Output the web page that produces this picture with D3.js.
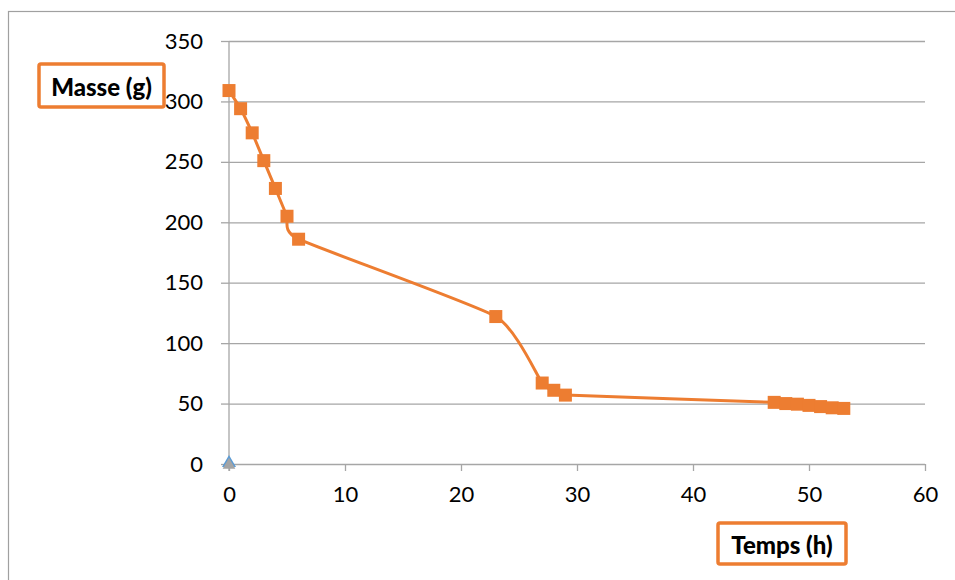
<!DOCTYPE html>
<html>
<head>
<meta charset="utf-8">
<script src="https://cdn.jsdelivr.net/npm/d3@7"></script>
<style>
  body { margin: 0; background: #fff; }
  svg { display: block; font-family: Lato, "Open Sans", sans-serif; }
</style>
</head>
<body>
<svg width="955" height="580"></svg>
<script>
// values
const hours = [0, 1, 2, 3, 4, 5, 6, 23, 27, 28, 29, 47, 48, 49, 50, 51, 52, 53];
const masses = [309, 294, 274, 251, 228, 205, 186, 122, 67, 61, 57, 51, 50, 49.5, 48.5, 47.5, 46.5, 46];
const xTicks = [0, 10, 20, 30, 40, 50, 60];
const yTicks = [0, 50, 100, 150, 200, 250, 300, 350];
const baseHours = [0];
const baseMasses = [0];

const svg = d3.select("svg");
const orange = "#ED7D31";
const grid = "#A6A6A6";

const x = d3.scaleLinear().domain([0, 60]).range([229, 925]);
const y = d3.scaleLinear().domain([0, 350]).range([464, 41]);

// outer chart frame
svg.append("rect")
  .attr("x", 8.5).attr("y", 11.5)
  .attr("width", 980).attr("height", 620)
  .attr("fill", "none")
  .attr("stroke", "#A0A0A0")
  .attr("stroke-width", 1.2);

// horizontal gridlines + y axis
const yAxis = d3.axisLeft(y).tickValues(yTicks).tickSize(8).tickPadding(18)
  .tickFormat(d3.format("d"));
const gy = svg.append("g").attr("transform", `translate(${x(0)},0)`).call(yAxis);
gy.select(".domain").remove();
gy.selectAll(".tick line").attr("stroke", grid).attr("stroke-width", 1.3);
gy.selectAll(".tick").append("line")
  .attr("x1", 0).attr("x2", x(60) - x(0))
  .attr("stroke", grid).attr("stroke-width", 1.3);
gy.selectAll(".tick text")
  .attr("font-size", 22).attr("fill", "#000")
  .attr("font-family", "Lato, sans-serif");

// x axis
const xAxis = d3.axisBottom(x).tickValues(xTicks).tickSize(7).tickPadding(15)
  .tickFormat(d3.format("d"));
const gx = svg.append("g").attr("transform", `translate(0,${y(0)})`).call(xAxis);
gx.select(".domain").remove();
gx.selectAll(".tick line").attr("stroke", grid).attr("stroke-width", 1.3);
gx.selectAll(".tick text")
  .attr("font-size", 22).attr("fill", "#000")
  .attr("font-family", "Lato, sans-serif");

// vertical axis line
svg.append("line")
  .attr("x1", x(0)).attr("x2", x(0))
  .attr("y1", y(350)).attr("y2", y(0) + 7)
  .attr("stroke", grid).attr("stroke-width", 1.3);

// data series (smoothed like the spreadsheet line)
const points = hours.map((h, i) => ({ h, m: masses[i] }));

const line = d3.line()
  .x(d => x(d.h))
  .y(d => y(d.m))
  .curve(d3.curveCardinal.tension(0.5));

svg.append("path")
  .datum(points)
  .attr("d", line)
  .attr("fill", "none")
  .attr("stroke", orange)
  .attr("stroke-width", 3);

const ms = 13;
svg.append("g").selectAll("rect")
  .data(points)
  .join("rect")
  .attr("x", d => x(d.h) - ms / 2)
  .attr("y", d => y(d.m) - ms / 2)
  .attr("width", ms).attr("height", ms)
  .attr("fill", orange);

// second series: single triangle at origin
const base = baseHours.map((h, i) => ({ h, m: baseMasses[i] }));
svg.append("g").selectAll("path")
  .data(base)
  .join("path")
  .attr("d", d3.symbol().type(d3.symbolTriangle).size(85))
  .attr("transform", d => `translate(${x(d.h)},${y(d.m) - 1})`)
  .attr("fill", "#5B9BD5");
svg.append("g").selectAll("path")
  .data(base)
  .join("path")
  .attr("d", d3.symbol().type(d3.symbolTriangle).size(70))
  .attr("transform", d => `translate(${x(d.h)},${y(d.m) + 1})`)
  .attr("fill", "#A5A5A5");

// boxed axis titles
function boxLabel(text, bx, by, bw, bh) {
  svg.append("rect")
    .attr("x", bx).attr("y", by)
    .attr("width", bw).attr("height", bh)
    .attr("rx", 2)
    .attr("fill", "#fff")
    .attr("stroke", orange)
    .attr("stroke-width", 3.5);
  svg.append("text")
    .attr("x", bx + bw / 2).attr("y", by + bh / 2 + 1)
    .attr("text-anchor", "middle")
    .attr("dominant-baseline", "central")
    .attr("font-size", 24)
    .attr("font-weight", 900)
    .attr("fill", "#000")
    .text(text);
}
boxLabel("Masse (g)", 39, 64, 125, 43);
boxLabel("Temps (h)", 718, 523, 128, 41);
</script>
</body>
</html>
